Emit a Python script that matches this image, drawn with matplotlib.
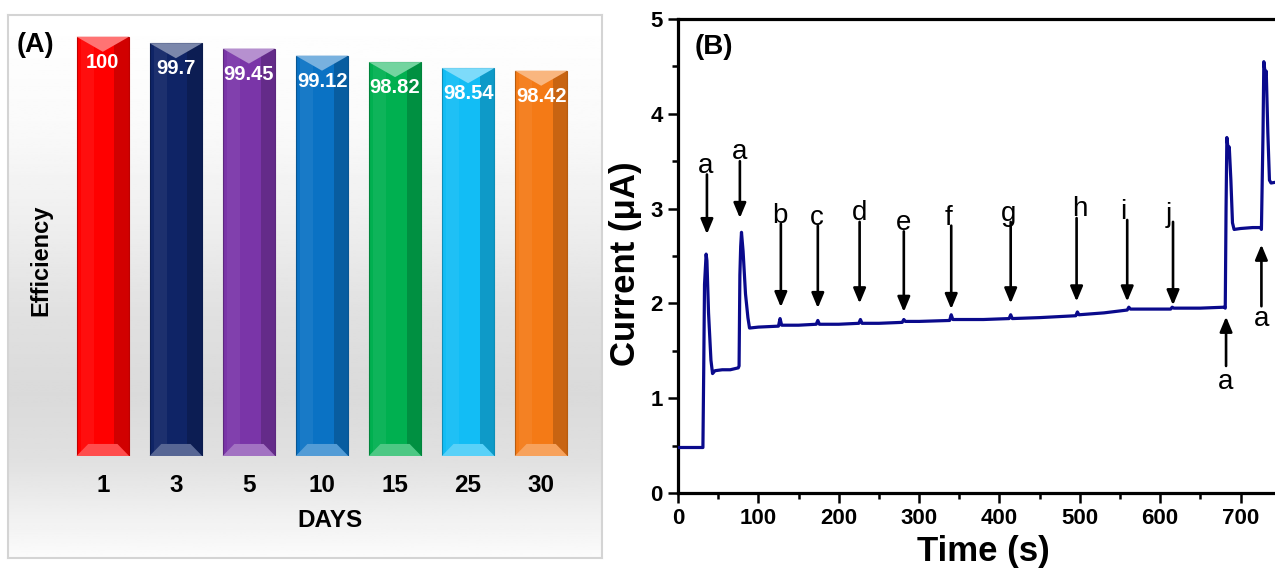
"""Stability bars (A) and amperometric response (B)."""

import matplotlib
matplotlib.use("Agg")
import matplotlib.pyplot as plt
from matplotlib.patches import Polygon, Rectangle
from matplotlib.colors import to_rgb
from matplotlib.ticker import MultipleLocator
import numpy as np

plt.rcParams["font.family"] = ["Liberation Sans", "DejaVu Sans"]

# ---- panel A data
days = ["1", "3", "5", "10", "15", "25", "30"]
efficiency = [100, 99.7, 99.45, 99.12, 98.82, 98.54, 98.42]
bar_colors = ["#ff0000", "#0f2466", "#7a35a8", "#0a72c4", "#00b050", "#12bdf5", "#f47a16"]
eff_base = 80.5

# ---- panel B data
time_s = [0, 31, 32, 33, 35, 36, 38, 41, 43, 46, 55, 65, 75, 76, 77, 78, 79, 81, 84, 87, 89,
          100, 125, 127, 129, 150, 172, 174, 176, 200, 225, 227, 229, 250, 279, 281, 283, 300,
          338, 340, 342, 380, 412, 414, 416, 450, 495, 497, 499, 530, 559, 561, 563, 590,
          613, 615, 617, 650, 680, 681, 682, 683, 685, 686, 688, 690, 692, 700, 715, 725,
          726, 728, 729, 731, 732, 734, 736, 738, 745, 750]
current_uA = [0.48, 0.48, 1.3, 2.2, 2.52, 2.45, 1.9, 1.4, 1.26, 1.29, 1.30, 1.30, 1.32, 1.34,
              2.3, 2.6, 2.75, 2.55, 2.1, 1.85, 1.74,
              1.75, 1.76, 1.84, 1.77, 1.77, 1.78, 1.82, 1.78, 1.78, 1.79, 1.83, 1.79, 1.79,
              1.80, 1.83, 1.81, 1.81, 1.82, 1.88, 1.83, 1.83, 1.84, 1.88, 1.84, 1.85, 1.87,
              1.91, 1.88, 1.90, 1.93, 1.96, 1.94, 1.94, 1.94, 1.96, 1.95, 1.95, 1.96, 1.95,
              3.0, 3.75, 3.6, 3.65, 3.3, 2.85, 2.78, 2.79, 2.80, 2.80,
              2.78, 3.8, 4.55, 4.4, 4.45, 3.8, 3.3, 3.27, 3.28, 3.28]

arrow_labels = ["a", "a", "b", "c", "d", "e", "f", "g", "h", "i", "j", "a", "a"]
arrow_x = [36, 77, 128, 174, 226, 281, 340, 414, 496, 559, 616, 682, 726]
arrow_tail = [3.36, 3.50, 2.84, 2.82, 2.86, 2.76, 2.82, 2.86, 2.90, 2.88, 2.86, 1.34, 1.97]
arrow_tip = [2.73, 2.90, 1.96, 1.95, 2.00, 1.91, 1.94, 2.00, 2.02, 2.02, 1.98, 1.86, 2.62]
label_x = [34, 76, 127, 173, 226, 281, 337, 411, 500, 554, 611, 682, 726]
label_y = [3.45, 3.60, 2.92, 2.90, 2.95, 2.85, 2.90, 2.94, 3.00, 2.96, 2.93, 1.17, 1.84]


def shade(color, amount):
    """Blend color towards white (amount > 0) or black (amount < 0)."""
    c = np.array(to_rgb(color))
    if amount >= 0:
        return tuple(c + (1 - c) * amount)
    return tuple(c * (1 + amount))


W, H = 1275, 574
fig = plt.figure(figsize=(W / 100, H / 100), dpi=100)

# ---- panel A: framed box with grey gradient
bg = fig.add_axes([8 / W, 16 / H, 594 / W, 543 / H])
pos = [0, 0.2, 0.4, 0.55, 0.7, 0.82, 0.92, 1.0]
val = [1.0, 0.98, 0.93, 0.88, 0.855, 0.88, 0.94, 0.985]
grad = np.interp(np.linspace(0, 1, 300), pos, val)
bg.imshow(grad[:, None], cmap="gray", vmin=0, vmax=1, aspect="auto", extent=[0, 1, 0, 1])
bg.set_xticks([])
bg.set_yticks([])
for s in bg.spines.values():
    s.set_color("#d4d4d4")
    s.set_linewidth(1.5)

ax1 = fig.add_axes([59 / W, 118 / H, 526 / W, 441 / H])
ax1.patch.set_alpha(0)
x = np.arange(len(days))
heights = np.array(efficiency) - eff_base
bars = ax1.bar(x, heights, bottom=eff_base, width=0.72, color=bar_colors,
               edgecolor=[shade(c, -0.25) for c in bar_colors], linewidth=0.8, zorder=2)
ax1.set_xlim(-0.6, 6.6)
ax1.set_ylim(eff_base, 101.01)

for rect, c in zip(bars, bar_colors):
    x0, w = rect.get_x(), rect.get_width()
    b0, top = rect.get_y(), rect.get_y() + rect.get_height()
    # right-side shadow and left highlight
    ax1.add_patch(Rectangle((x0 + 0.72 * w, b0), 0.28 * w, top - b0, color="black", alpha=0.18, lw=0, zorder=3))
    ax1.add_patch(Rectangle((x0 + 0.08 * w, b0), 0.25 * w, top - b0, color="white", alpha=0.06, lw=0, zorder=3))
    # top bevel
    ax1.add_patch(Polygon([(x0, top), (x0 + w, top), (x0 + w / 2, top - 0.7)],
                          closed=True, color=shade(c, 0.45), lw=0, zorder=4))
    # bottom bevel
    ax1.add_patch(Polygon([(x0, b0), (x0 + w, b0), (x0 + w - 0.16, b0 + 0.56), (x0 + 0.16, b0 + 0.56)],
                          closed=True, color=shade(c, 0.3), lw=0, zorder=4))

for xi, v in zip(x, efficiency):
    ax1.annotate(f"{v:g}", xy=(xi, v), xytext=(0, -18.5), textcoords="offset points",
                 ha="center", va="center", color="white", fontweight="bold", fontsize=14.5, zorder=5)

ax1.set_xticks(x)
ax1.set_xticklabels(days, fontweight="bold", fontsize=17.5)
ax1.tick_params(axis="x", length=0, pad=13)
ax1.set_yticks([])
for s in ax1.spines.values():
    s.set_visible(False)
ax1.set_xlabel("DAYS", fontweight="bold", fontsize=17.5)
ax1.xaxis.set_label_coords(0.515, -0.12)
ax1.set_ylabel("Efficiency", fontweight="bold", fontsize=17)
ax1.yaxis.set_label_coords(-0.013, 0.444)
fig.text(17 / W, 1 - 45 / H, "(A)", fontweight="bold", fontsize=19.5, ha="left", va="center")

# ---- panel B: current vs time
ax2 = fig.add_axes([678 / W, 81 / H, 602.7 / W, 474 / H])
ax2.plot(time_s, current_uA, color="#0a0a8c", linewidth=2.3, zorder=3)
ax2.set_xlim(0, 750)
ax2.set_ylim(0, 5)
ax2.xaxis.set_major_locator(MultipleLocator(100))
ax2.xaxis.set_minor_locator(MultipleLocator(50))
ax2.yaxis.set_major_locator(MultipleLocator(1))
ax2.yaxis.set_minor_locator(MultipleLocator(0.5))
ax2.tick_params(which="major", direction="out", length=7, width=1.8, labelsize=16, pad=4)
ax2.tick_params(which="minor", direction="out", length=4.5, width=1.8)
for lbl in ax2.get_xticklabels() + ax2.get_yticklabels():
    lbl.set_fontweight("bold")
for s in ax2.spines.values():
    s.set_linewidth(2.3)

for lab, xa, t0, t1, lx, ly in zip(arrow_labels, arrow_x, arrow_tail, arrow_tip, label_x, label_y):
    ax2.annotate("", xy=(xa, t1), xytext=(xa, t0),
                 arrowprops=dict(arrowstyle="-|>,head_length=0.6,head_width=0.25", color="black",
                                 lw=1.9, mutation_scale=15, shrinkA=0, shrinkB=0), zorder=4)
    ax2.text(lx, ly, lab, ha="center", va="center", fontsize=20, zorder=4)

ax2.text(0.028, 0.941, "(B)", transform=ax2.transAxes, fontweight="bold", fontsize=20,
         ha="left", va="center")
ax2.set_xlabel("Time (s)", fontweight="bold", fontsize=25)
ax2.xaxis.set_label_coords(0.506, -0.089)
ax2.set_ylabel("Current (\u03bcA)", fontweight="bold", fontsize=25)
ax2.yaxis.set_label_coords(-0.06, 0.483)

fig.savefig("out.png", dpi=100, facecolor="white")
